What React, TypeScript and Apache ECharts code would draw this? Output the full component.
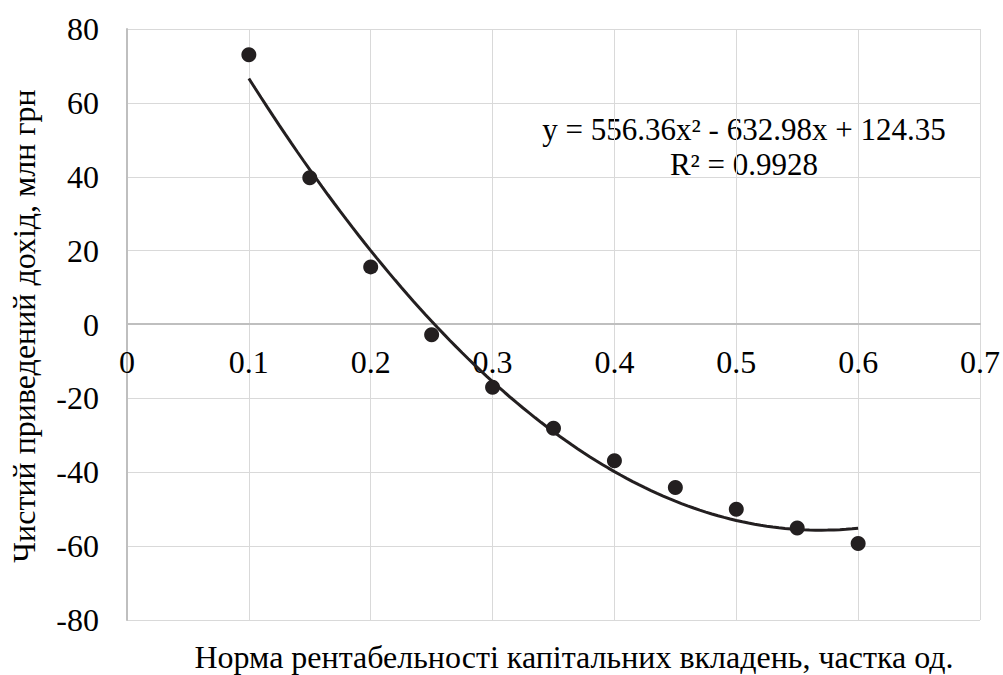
import React, { useEffect, useRef } from "react";
import * as echarts from "echarts";

const xValues = [0.1, 0.15, 0.2, 0.25, 0.3, 0.35, 0.4, 0.45, 0.5, 0.55, 0.6];
const yValues = [73.0, 39.7, 15.6, -2.8, -17.0, -28.1, -36.9, -44.1, -50.0, -55.1, -59.3];
const xTickLabels = ["0", "0.1", "0.2", "0.3", "0.4", "0.5", "0.6", "0.7"];
const yTickLabels = ["-80", "-60", "-40", "-20", "0", "20", "40", "60", "80"];
// trendline coefficients as printed on the chart: a*x^2 + b*x + c
const trendCoef = [556.36, -632.98, 124.35];
const trendRange = [0.1, 0.6];
const equationText = "y = 556.36x² - 632.98x + 124.35";
const r2Text = "R² = 0.9928";
const xTitle = "Норма рентабельності капітальних вкладень, частка од.";
const yTitle = "Чистий приведений дохід, млн грн";

const FONT = "Liberation Serif";
const FS = 32;

export default function App() {
  const ref = useRef<HTMLDivElement>(null);
  useEffect(() => {
    if (!ref.current) return;
    const chart = echarts.init(ref.current, null, { renderer: "svg" });
    const trend: number[][] = [];
    const steps = 100;
    for (let i = 0; i <= steps; i++) {
      const x = trendRange[0] + ((trendRange[1] - trendRange[0]) * i) / steps;
      trend.push([x, trendCoef[0] * x * x + trendCoef[1] * x + trendCoef[2]]);
    }
    const txt = (text: string, x: number, y: number, rotation = 0, size = FS) => ({
      type: "text",
      x,
      y,
      rotation,
      style: {
        text,
        fontFamily: FONT,
        fontSize: size,
        fill: "#000000",
        align: "center",
        verticalAlign: "middle",
      },
    });
    chart.setOption({
      animation: false,
      backgroundColor: "#ffffff",
      textStyle: { fontFamily: FONT },
      grid: { left: 127, right: 20, top: 29, bottom: 55, containLabel: false },
      xAxis: {
        type: "value",
        min: 0,
        max: 0.7,
        interval: 0.1,
        position: "bottom",
        offset: -296,
        axisLine: { show: true, onZero: false, lineStyle: { color: "#bfbfbf", width: 2 } },
        axisTick: { show: false },
        axisLabel: {
          margin: 22,
          fontFamily: FONT,
          fontSize: FS,
          color: "#000000",
          formatter: (v: number) => xTickLabels[Math.round(v * 10)],
        },
        splitLine: { show: true, lineStyle: { color: "#d9d9d9", width: 1 } },
      },
      yAxis: {
        type: "value",
        min: -80,
        max: 80,
        interval: 20,
        axisLine: { show: true, onZero: false, lineStyle: { color: "#bfbfbf", width: 2 } },
        axisTick: { show: false },
        axisLabel: {
          margin: 28,
          fontFamily: FONT,
          fontSize: FS,
          color: "#000000",
          formatter: (v: number) => yTickLabels[Math.round((v + 80) / 20)],
        },
        splitLine: { show: true, lineStyle: { color: "#d9d9d9", width: 1 } },
      },
      series: [
        {
          type: "line",
          data: trend,
          showSymbol: false,
          symbol: "none",
          smooth: false,
          lineStyle: { color: "#231f20", width: 3 },
          z: 2,
        },
        {
          type: "scatter",
          data: xValues.map((x, i) => [x, yValues[i]]),
          symbol: "circle",
          symbolSize: 15,
          itemStyle: { color: "#231f20", opacity: 1 },
          z: 3,
        },
      ],
      graphic: [
        txt(equationText, 744, 129.5, 0, 31),
        txt(r2Text, 744, 164, 0, 31),
        txt(xTitle, 574, 657),
        txt(yTitle, 24, 326, Math.PI / 2),
      ],
    });
    return () => chart.dispose();
  }, []);
  return <div ref={ref} style={{ width: 1003, height: 675, position: "absolute", left: 0, top: 0 }} />;
}
